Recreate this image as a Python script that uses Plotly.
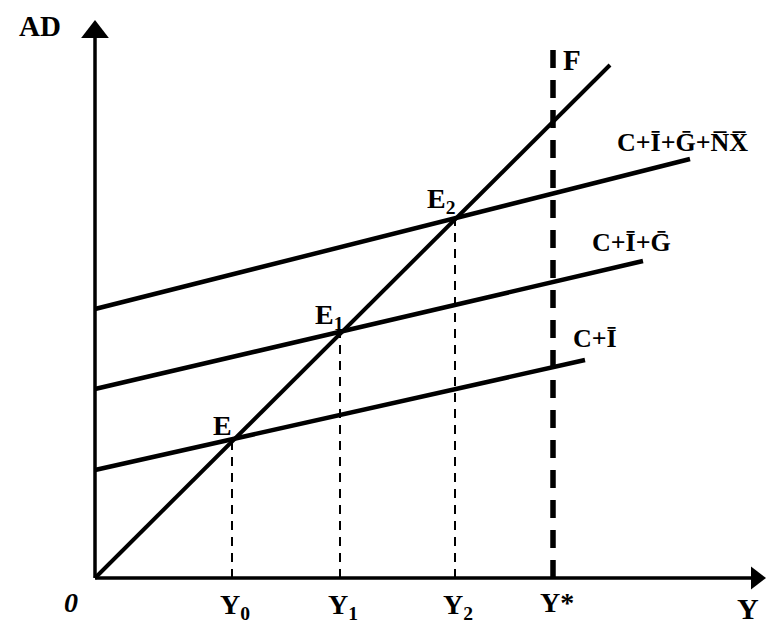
import plotly.graph_objects as go

# Data (in chart units: Y on horizontal, AD on vertical)
line45_x = [0, 515]
line45_y = [0, 513]

ci_x = [0, 490]
ci_y = [108, 218]

cig_x = [0, 548]
cig_y = [189, 317]

cignx_x = [0, 595]
cignx_y = [269, 419]

eq_names = ["E", "E<sub>1</sub>", "E<sub>2</sub>"]
eq_y = [137, 245, 360]            # Y0, Y1, Y2 (equal to AD at equilibrium)
tick_labels = ["Y<sub>0</sub>", "Y<sub>1</sub>", "Y<sub>2</sub>"]
y_full = 458                      # Y*
f_top = 532

fig = go.Figure()

def add_line(xs, ys, w, dash="solid"):
    fig.add_trace(go.Scatter(x=xs, y=ys, mode="lines",
                             line=dict(color="black", width=w, dash=dash),
                             hoverinfo="skip", showlegend=False))

# axes
add_line([0, 0], [0, 540], 3.5)
add_line([0, 660], [0, 0], 3.5)
fig.add_trace(go.Scatter(x=[0], y=[546], mode="markers",
                         marker=dict(symbol="triangle-up", size=24, color="black"),
                         hoverinfo="skip", showlegend=False))
fig.add_trace(go.Scatter(x=[661], y=[0], mode="markers",
                         marker=dict(symbol="triangle-right", size=20, color="black"),
                         hoverinfo="skip", showlegend=False))

# main lines
add_line(line45_x, line45_y, 4)
add_line(ci_x, ci_y, 4.5)
add_line(cig_x, cig_y, 4.5)
add_line(cignx_x, cignx_y, 4.5)

# drop lines
for v in eq_y:
    add_line([v, v], [0, v], 2, "9px,7px")
add_line([y_full, y_full], [0, f_top], 5.5, "18px,12px")

ann = []
def label(x, y, text, size=22, xanchor="center", italic=False):
    t = "<b>" + text + "</b>"
    ann.append(dict(x=x, y=y, xref="x", yref="y", text=t,
                    showarrow=False, xanchor=xanchor,
                    font=dict(family="Liberation Serif", size=size, color="black",
                              style="italic" if italic else "normal")))

label(-55, 552, "AD", 29)
label(477, 518, "F", 29)
label(520, 436, "C+Ī+Ḡ+N̅X̅", 26, "left")
label(495, 336, "C+Ī+Ḡ", 26, "left")
label(476, 240, "C+Ī", 26, "left")
label(127, 153, eq_names[0], 28)
label(234, 262, eq_names[1], 28)
label(346, 378, eq_names[2], 28)
for v, t in zip(eq_y, tick_labels):
    label(v + 3, -28, t, 28)
label(y_full + 4, -24, "Y*", 28)
label(-24, -24, "0", 28, italic=True)
label(653, -30, "Y", 30)

fig.update_layout(
    width=774, height=630,
    margin=dict(l=0, r=0, t=0, b=0),
    paper_bgcolor="white", plot_bgcolor="white",
    xaxis=dict(range=[-87, 687], visible=False, fixedrange=True),
    yaxis=dict(range=[-60, 570], visible=False, fixedrange=True),
    annotations=ann,
    showlegend=False,
)

fig.write_html("out.html")
